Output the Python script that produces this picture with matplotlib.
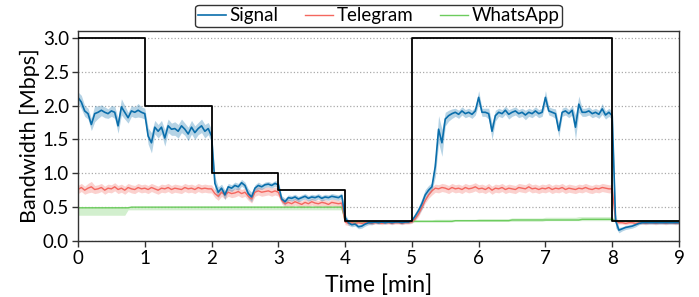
import numpy as np
import matplotlib
matplotlib.use("Agg")
import matplotlib.pyplot as plt

plt.rcParams['font.family'] = ['Lato', 'DejaVu Sans']

# time grid in minutes (0.05 min step)
time_min = np.round(np.arange(0, 181) * 0.05, 2)

# configured bandwidth limit (step function)
limit_times = [0, 1, 2, 3, 4, 5, 8, 9]
limit_mbps = [3.0, 2.0, 1.0, 0.75, 0.3, 3.0, 0.3, 0.3]

signal_mean = [
    2.12, 2.05, 1.92, 1.88, 1.72, 1.88, 1.90, 1.93, 1.90, 1.88, 1.92, 1.90, 1.70, 1.98, 1.90, 1.82, 1.92, 1.90, 1.93, 1.90,
    1.88, 1.55, 1.45, 1.68, 1.62, 1.68, 1.52, 1.70, 1.65, 1.66, 1.62, 1.70, 1.65, 1.58, 1.68, 1.60, 1.66, 1.70, 1.62, 1.66,
    1.55, 0.85, 0.72, 0.78, 0.68, 0.80, 0.78, 0.82, 0.80, 0.86, 0.82, 0.70, 0.65, 0.78, 0.82, 0.80, 0.83, 0.84, 0.82, 0.85,
    0.83, 0.62, 0.58, 0.64, 0.63, 0.65, 0.62, 0.64, 0.66, 0.63, 0.65, 0.64, 0.66, 0.63, 0.65, 0.64, 0.66, 0.65, 0.64, 0.67,
    0.35, 0.27, 0.24, 0.25, 0.21, 0.22, 0.25, 0.27, 0.27, 0.28, 0.27, 0.28, 0.27, 0.28, 0.27, 0.28, 0.28, 0.27, 0.28, 0.28,
    0.30, 0.37, 0.45, 0.55, 0.68, 0.75, 0.80, 1.10, 1.65, 1.45, 1.80, 1.85, 1.88, 1.90, 1.87, 1.92, 1.88, 1.90, 1.87, 1.92,
    2.12, 1.90, 1.90, 1.88, 1.62, 1.85, 1.90, 1.88, 1.93, 1.87, 1.90, 1.92, 1.88, 1.90, 1.86, 1.90, 1.88, 1.92, 1.88, 1.90,
    2.12, 1.92, 1.90, 1.88, 1.63, 1.90, 1.92, 1.88, 1.93, 1.68, 2.02, 1.90, 1.90, 1.92, 1.88, 1.90, 1.87, 1.95, 1.86, 1.90,
    1.85, 0.30, 0.16, 0.18, 0.20, 0.21, 0.22, 0.24, 0.26, 0.27, 0.27, 0.27, 0.27, 0.27, 0.27, 0.27, 0.27, 0.27, 0.27, 0.27,
    0.27,
]
signal_spread = [
    0.08, 0.10, 0.08, 0.08, 0.09, 0.12, 0.09, 0.08, 0.08, 0.07, 0.08, 0.09, 0.11, 0.12, 0.10, 0.08, 0.08, 0.08, 0.10, 0.08,
    0.08, 0.12, 0.15, 0.10, 0.10, 0.10, 0.12, 0.10, 0.09, 0.10, 0.10, 0.10, 0.09, 0.10, 0.10, 0.10, 0.09, 0.10, 0.10, 0.09,
    0.10, 0.10, 0.08, 0.06, 0.07, 0.05, 0.05, 0.05, 0.05, 0.05, 0.05, 0.07, 0.07, 0.05, 0.05, 0.04, 0.04, 0.04, 0.04, 0.04,
    0.05, 0.05, 0.05, 0.04, 0.04, 0.04, 0.04, 0.04, 0.04, 0.04, 0.04, 0.04, 0.04, 0.04, 0.04, 0.04, 0.04, 0.04, 0.04, 0.04,
    0.05, 0.04, 0.03, 0.03, 0.03, 0.03, 0.03, 0.03, 0.03, 0.02, 0.02, 0.02, 0.02, 0.02, 0.02, 0.02, 0.02, 0.02, 0.02, 0.02,
    0.03, 0.05, 0.06, 0.08, 0.08, 0.07, 0.06, 0.15, 0.20, 0.20, 0.10, 0.08, 0.07, 0.06, 0.06, 0.06, 0.06, 0.06, 0.06, 0.06,
    0.10, 0.06, 0.06, 0.08, 0.12, 0.08, 0.06, 0.06, 0.06, 0.07, 0.06, 0.06, 0.06, 0.06, 0.07, 0.06, 0.06, 0.06, 0.06, 0.06,
    0.10, 0.06, 0.06, 0.07, 0.10, 0.06, 0.06, 0.06, 0.07, 0.18, 0.12, 0.06, 0.06, 0.06, 0.06, 0.06, 0.06, 0.08, 0.06, 0.06,
    0.06, 0.10, 0.04, 0.03, 0.03, 0.03, 0.03, 0.03, 0.02, 0.02, 0.02, 0.02, 0.02, 0.02, 0.02, 0.02, 0.02, 0.02, 0.02, 0.02,
    0.02,
]

telegram_mean = [
    0.76, 0.79, 0.75, 0.78, 0.80, 0.76, 0.77, 0.79, 0.75, 0.78, 0.77, 0.80, 0.76, 0.78, 0.75, 0.79, 0.77, 0.76, 0.79, 0.77,
    0.78, 0.76, 0.79, 0.77, 0.75, 0.78, 0.77, 0.79, 0.76, 0.78, 0.77, 0.76, 0.79, 0.77, 0.78, 0.76, 0.79, 0.77, 0.78, 0.77,
    0.77, 0.70, 0.66, 0.72, 0.68, 0.72, 0.70, 0.71, 0.73, 0.70, 0.72, 0.66, 0.62, 0.72, 0.74, 0.72, 0.73, 0.74, 0.72, 0.74,
    0.72, 0.60, 0.55, 0.57, 0.55, 0.58, 0.56, 0.54, 0.57, 0.55, 0.58, 0.56, 0.55, 0.57, 0.56, 0.54, 0.57, 0.56, 0.55, 0.56,
    0.28, 0.26, 0.27, 0.26, 0.27, 0.26, 0.27, 0.27, 0.26, 0.27, 0.27, 0.26, 0.27, 0.27, 0.26, 0.27, 0.27, 0.26, 0.27, 0.27,
    0.28, 0.33, 0.40, 0.50, 0.60, 0.68, 0.74, 0.78, 0.77, 0.79, 0.78, 0.76, 0.79, 0.77, 0.78, 0.76, 0.79, 0.77, 0.78, 0.80,
    0.77, 0.78, 0.76, 0.79, 0.75, 0.78, 0.77, 0.79, 0.76, 0.78, 0.77, 0.76, 0.79, 0.78, 0.77, 0.80, 0.77, 0.78, 0.76, 0.78,
    0.77, 0.79, 0.76, 0.78, 0.77, 0.79, 0.76, 0.78, 0.77, 0.76, 0.78, 0.77, 0.79, 0.77, 0.76, 0.78, 0.77, 0.79, 0.78, 0.77,
    0.77, 0.30, 0.27, 0.27, 0.26, 0.27, 0.27, 0.26, 0.27, 0.27, 0.26, 0.27, 0.27, 0.26, 0.27, 0.27, 0.26, 0.27, 0.27, 0.26,
    0.27,
]
telegram_spread = [
    0.06, 0.06, 0.06, 0.07, 0.08, 0.06, 0.06, 0.06, 0.06, 0.06, 0.06, 0.06, 0.06, 0.06, 0.06, 0.06, 0.06, 0.06, 0.06, 0.06,
    0.06, 0.06, 0.06, 0.06, 0.06, 0.06, 0.06, 0.06, 0.06, 0.06, 0.06, 0.06, 0.06, 0.06, 0.06, 0.06, 0.06, 0.06, 0.06, 0.06,
    0.06, 0.06, 0.06, 0.06, 0.06, 0.06, 0.06, 0.06, 0.06, 0.06, 0.06, 0.06, 0.06, 0.06, 0.06, 0.06, 0.06, 0.06, 0.06, 0.06,
    0.06, 0.05, 0.05, 0.05, 0.05, 0.05, 0.05, 0.05, 0.05, 0.05, 0.05, 0.05, 0.05, 0.05, 0.05, 0.05, 0.05, 0.05, 0.05, 0.05,
    0.04, 0.03, 0.02, 0.02, 0.02, 0.02, 0.02, 0.02, 0.02, 0.02, 0.02, 0.02, 0.02, 0.02, 0.02, 0.02, 0.02, 0.02, 0.02, 0.02,
    0.02, 0.03, 0.04, 0.04, 0.04, 0.05, 0.06, 0.06, 0.06, 0.06, 0.06, 0.06, 0.06, 0.06, 0.06, 0.06, 0.06, 0.06, 0.06, 0.06,
    0.06, 0.06, 0.06, 0.06, 0.06, 0.06, 0.06, 0.06, 0.06, 0.06, 0.06, 0.06, 0.06, 0.06, 0.06, 0.06, 0.06, 0.06, 0.06, 0.06,
    0.06, 0.06, 0.06, 0.06, 0.06, 0.06, 0.06, 0.06, 0.06, 0.06, 0.06, 0.06, 0.06, 0.06, 0.06, 0.06, 0.06, 0.06, 0.06, 0.06,
    0.06, 0.04, 0.02, 0.02, 0.02, 0.02, 0.02, 0.02, 0.02, 0.02, 0.02, 0.02, 0.02, 0.02, 0.02, 0.02, 0.02, 0.02, 0.02, 0.02,
    0.02,
]

whatsapp_mean = [
    0.49, 0.49, 0.49, 0.49, 0.49, 0.49, 0.49, 0.49, 0.49, 0.49, 0.49, 0.49, 0.49, 0.49, 0.49, 0.49, 0.50, 0.50, 0.50, 0.50,
    0.50, 0.50, 0.50, 0.50, 0.50, 0.50, 0.50, 0.50, 0.50, 0.50, 0.50, 0.50, 0.50, 0.50, 0.50, 0.50, 0.50, 0.50, 0.50, 0.50,
    0.50, 0.50, 0.50, 0.50, 0.50, 0.50, 0.50, 0.50, 0.50, 0.50, 0.50, 0.50, 0.50, 0.50, 0.50, 0.50, 0.50, 0.50, 0.50, 0.50,
    0.50, 0.50, 0.50, 0.50, 0.50, 0.50, 0.50, 0.50, 0.50, 0.50, 0.50, 0.50, 0.50, 0.50, 0.50, 0.50, 0.50, 0.50, 0.50, 0.50,
    0.30, 0.28, 0.28, 0.28, 0.28, 0.28, 0.28, 0.28, 0.28, 0.28, 0.28, 0.28, 0.28, 0.28, 0.28, 0.28, 0.28, 0.28, 0.28, 0.28,
    0.29, 0.29, 0.29, 0.29, 0.29, 0.29, 0.29, 0.29, 0.29, 0.29, 0.29, 0.29, 0.29, 0.30, 0.30, 0.30, 0.30, 0.30, 0.30, 0.30,
    0.30, 0.30, 0.30, 0.30, 0.30, 0.30, 0.30, 0.30, 0.30, 0.30, 0.31, 0.31, 0.31, 0.31, 0.31, 0.31, 0.31, 0.31, 0.31, 0.31,
    0.31, 0.31, 0.31, 0.31, 0.31, 0.31, 0.31, 0.31, 0.31, 0.31, 0.31, 0.32, 0.32, 0.32, 0.32, 0.32, 0.32, 0.32, 0.32, 0.32,
    0.32, 0.30, 0.29, 0.29, 0.29, 0.29, 0.29, 0.29, 0.29, 0.29, 0.29, 0.29, 0.29, 0.29, 0.29, 0.29, 0.29, 0.29, 0.29, 0.29,
    0.29,
]
whatsapp_low = [
    0.38, 0.38, 0.38, 0.38, 0.38, 0.38, 0.38, 0.38, 0.38, 0.38, 0.38, 0.38, 0.38, 0.38, 0.38, 0.46, 0.46, 0.46, 0.46, 0.46,
    0.46, 0.46, 0.46, 0.46, 0.46, 0.46, 0.46, 0.46, 0.46, 0.46, 0.46, 0.46, 0.46, 0.46, 0.46, 0.46, 0.46, 0.46, 0.46, 0.46,
    0.46, 0.46, 0.46, 0.46, 0.46, 0.46, 0.46, 0.46, 0.46, 0.46, 0.46, 0.46, 0.46, 0.46, 0.46, 0.46, 0.46, 0.46, 0.46, 0.46,
    0.46, 0.46, 0.46, 0.46, 0.46, 0.46, 0.46, 0.46, 0.46, 0.46, 0.46, 0.46, 0.46, 0.46, 0.46, 0.46, 0.46, 0.46, 0.46, 0.46,
    0.28, 0.27, 0.27, 0.27, 0.27, 0.27, 0.27, 0.27, 0.27, 0.27, 0.27, 0.27, 0.27, 0.27, 0.27, 0.27, 0.27, 0.27, 0.27, 0.27,
    0.28, 0.28, 0.28, 0.28, 0.28, 0.28, 0.28, 0.28, 0.28, 0.28, 0.28, 0.28, 0.28, 0.29, 0.29, 0.29, 0.29, 0.29, 0.29, 0.29,
    0.29, 0.29, 0.29, 0.29, 0.29, 0.29, 0.29, 0.29, 0.29, 0.29, 0.29, 0.29, 0.29, 0.29, 0.29, 0.29, 0.29, 0.29, 0.29, 0.29,
    0.30, 0.30, 0.30, 0.30, 0.30, 0.30, 0.30, 0.30, 0.30, 0.30, 0.30, 0.30, 0.30, 0.30, 0.30, 0.30, 0.30, 0.30, 0.30, 0.30,
    0.30, 0.29, 0.28, 0.28, 0.28, 0.28, 0.28, 0.28, 0.28, 0.28, 0.28, 0.28, 0.28, 0.28, 0.28, 0.28, 0.28, 0.28, 0.28, 0.28,
    0.28,
]
whatsapp_high = [
    0.51, 0.51, 0.51, 0.51, 0.51, 0.51, 0.51, 0.51, 0.51, 0.51, 0.51, 0.51, 0.51, 0.51, 0.51, 0.51, 0.51, 0.51, 0.51, 0.51,
    0.51, 0.51, 0.51, 0.51, 0.51, 0.51, 0.51, 0.51, 0.51, 0.51, 0.51, 0.51, 0.51, 0.51, 0.51, 0.51, 0.51, 0.51, 0.51, 0.51,
    0.51, 0.51, 0.51, 0.51, 0.51, 0.51, 0.51, 0.51, 0.51, 0.51, 0.51, 0.51, 0.51, 0.51, 0.51, 0.51, 0.51, 0.51, 0.51, 0.51,
    0.51, 0.51, 0.51, 0.51, 0.51, 0.51, 0.51, 0.51, 0.51, 0.51, 0.51, 0.51, 0.51, 0.51, 0.51, 0.51, 0.51, 0.51, 0.51, 0.51,
    0.32, 0.29, 0.29, 0.29, 0.29, 0.29, 0.29, 0.29, 0.29, 0.29, 0.29, 0.29, 0.29, 0.29, 0.29, 0.29, 0.29, 0.29, 0.29, 0.29,
    0.30, 0.31, 0.31, 0.31, 0.31, 0.31, 0.31, 0.32, 0.32, 0.32, 0.32, 0.32, 0.32, 0.32, 0.32, 0.32, 0.32, 0.32, 0.32, 0.32,
    0.33, 0.33, 0.33, 0.33, 0.33, 0.33, 0.33, 0.33, 0.33, 0.33, 0.34, 0.34, 0.34, 0.34, 0.34, 0.34, 0.34, 0.34, 0.34, 0.34,
    0.35, 0.35, 0.35, 0.35, 0.35, 0.35, 0.35, 0.35, 0.35, 0.35, 0.36, 0.36, 0.36, 0.36, 0.36, 0.36, 0.36, 0.36, 0.36, 0.36,
    0.36, 0.31, 0.30, 0.30, 0.30, 0.30, 0.30, 0.30, 0.30, 0.30, 0.30, 0.30, 0.30, 0.30, 0.30, 0.30, 0.30, 0.30, 0.30, 0.30,
    0.30,
]

x_ticks = [0, 1, 2, 3, 4, 5, 6, 7, 8, 9]
y_ticks = [0.0, 0.5, 1.0, 1.5, 2.0, 2.5, 3.0]

c_signal = '#0a6eab'
c_telegram = '#f4675f'
c_whatsapp = '#6dcc5e'

fig = plt.figure(figsize=(6.99, 2.97), dpi=100)
ax = fig.add_axes([78 / 699, (297 - 241) / 297, (679 - 78) / 699, (241 - 31) / 297])

t = np.array(time_min)
sm, ss = np.array(signal_mean), np.array(signal_spread)
tm, ts = np.array(telegram_mean), np.array(telegram_spread)
wm = np.array(whatsapp_mean)

ax.fill_between(t, np.array(whatsapp_low), np.array(whatsapp_high), color=c_whatsapp, alpha=0.3, lw=0)
ax.fill_between(t, tm - ts, tm + ts, color=c_telegram, alpha=0.3, lw=0)
ax.fill_between(t, sm - ss, sm + ss, color=c_signal, alpha=0.3, lw=0)
ax.plot(t, wm, color=c_whatsapp, lw=1.0, label='WhatsApp')
ax.plot(t, tm, color=c_telegram, lw=1.0, label='Telegram')
ax.plot(t, sm, color=c_signal, lw=1.2, label='Signal')
ax.plot(limit_times, limit_mbps, drawstyle='steps-post', color='black', lw=1.3, zorder=5)

ax.set_xlim(0, 9)
ax.set_ylim(0, 3.1)
ax.set_xticks(x_ticks)
ax.set_yticks(y_ticks)
ax.set_yticklabels([f'{v:.1f}' for v in y_ticks])
ax.tick_params(labelsize=13.5, length=4, width=1.0, color='#333333', pad=2.5)
ax.grid(axis='y', linestyle=':', color='#aaaaaa', lw=0.9)
ax.set_axisbelow(True)
for s in ax.spines.values():
    s.set_color('#333333')
    s.set_linewidth(1.0)
ax.set_xlabel('Time [min]', fontsize=16.5, labelpad=5)
ax.set_ylabel('Bandwidth [Mbps]', fontsize=15.5, labelpad=2)

h, l = ax.get_legend_handles_labels()
order = [2, 1, 0]
leg = ax.legend([h[i] for i in order], [l[i] for i in order], loc='lower center',
                bbox_to_anchor=(0.5, 1.0), ncol=3, fontsize=13.5, frameon=True,
                fancybox=True, edgecolor='black', handlelength=1.5, handletextpad=0.2,
                columnspacing=1.4, borderpad=0.15, borderaxespad=0.2)
leg.get_frame().set_linewidth(1.0)

fig.savefig('out.png', dpi=100)
